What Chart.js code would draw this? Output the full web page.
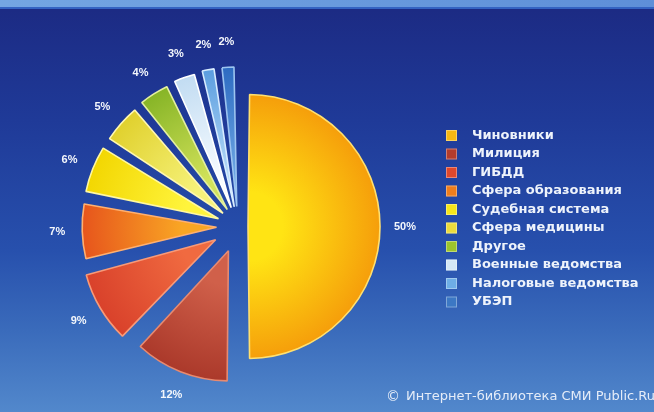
<!DOCTYPE html>
<html lang="ru">
<head>
<meta charset="utf-8">
<script src="https://cdn.jsdelivr.net/npm/chart.js@4.4.0/dist/chart.umd.min.js"></script>
<style>
  html, body { margin: 0; padding: 0; }
  body {
    width: 654px; height: 412px; overflow: hidden; position: relative;
    background: linear-gradient(180deg, #1c2b84 10px, #1f3a98 120px, #2750ad 250px, #3a6bbb 330px, #5288cc 412px);
  }
  #polosa {
    position: absolute; left: 0; top: 0; width: 654px; height: 7px;
    background: linear-gradient(90deg, #74a6e2, #5e8fd8);
    border-bottom: 2px solid #3463c2;
  }
  #istochnik {
    position: absolute; left: 386px; top: 388px; white-space: nowrap;
    color: #e4ecf8; font: 13px "DejaVu Sans", sans-serif;
  }
  #istochnik b { font-weight: normal; font-size: 14px; margin-right: 6px; vertical-align: -1px; }
  canvas { position: absolute; left: 0; top: 0; }
</style>
</head>
<body>
<div id="polosa"></div>
<canvas id="canvas" width="654" height="412"></canvas>
<div id="istochnik"><b>©</b>Интернет-библиотека СМИ Public.Ru</div>
<script>
// категории и доли, %
const kategorii = ['Чиновники', 'Милиция', 'ГИБДД', 'Сфера образования', 'Судебная система',
  'Сфера медицины', 'Другое', 'Военные ведомства', 'Налоговые ведомства', 'УБЭП'];
const dolya = [50, 12, 9, 7, 6, 5, 4, 3, 2, 2];

// цвета: центр сектора, край сектора, квадрат легенды, обводка
const cvetVnutri = ['#ffe414', '#d0604a', '#f06a40', '#f9a624', '#fff43c', '#f6f27a', '#d2e25a', '#f6fbff', '#b2d8f6', '#6aa4e2'];
const cvetSnaruzhi = ['#f59a0a', '#a83628', '#d8402a', '#e6521c', '#f2d600', '#e0d02c', '#86b426', '#c2dcf2', '#5c9ee0', '#2e6cc2'];
const cvetLegendy = ['#f6b812', '#b43c2c', '#e0482c', '#f07e1c', '#f6e61a', '#ecdc3c', '#9cc42c', '#d4e8f6', '#6eaee6', '#3c78c4'];
const cvetKraya = ['#ffe070', '#e88a70', '#f89a78', '#ffb070', '#fff8a0', '#fff8b0', '#e4f0a0', '#ffffff', '#d8ecff', '#9cc4f0'];
// вынос секторов (px * 4, как считает Chart.js)
const vynos = [40, 104, 104, 86, 84, 80, 80, 80, 80, 80];

function zalivka(ctx) {
  const i = ctx.dataIndex;
  const area = ctx.chart.chartArea;
  if (!area) return cvetLegendy[i];
  const cx = (area.left + area.right) / 2;
  const cy = (area.top + area.bottom) / 2;
  const g = ctx.chart.ctx.createRadialGradient(cx, cy, 0, cx, cy, 138);
  g.addColorStop(0, cvetVnutri[i]);
  g.addColorStop(0.25, cvetVnutri[i]);
  g.addColorStop(1, cvetSnaruzhi[i]);
  return g;
}

// подписи процентов у секторов
const podpisi = {
  id: 'podpisi',
  afterDatasetsDraw(chart) {
    const c = chart.ctx;
    const meta = chart.getDatasetMeta(0);
    c.save();
    c.font = 'bold 11px "Liberation Sans", Arial, sans-serif';
    c.fillStyle = '#f4f7fc';
    c.textAlign = 'center';
    c.textBaseline = 'middle';
    meta.data.forEach((el, i) => {
      const p = el.getProps(['x', 'y', 'startAngle', 'endAngle', 'outerRadius'], true);
      const t = (el.options.offset || 0) / 4;
      const fix = 1 - Math.sin(Math.min(Math.PI, p.endAngle - p.startAngle));
      const mid = (p.startAngle + p.endAngle) / 2;
      const d = t + p.outerRadius + t * fix + 25;
      c.fillText(dolya[i] + '%', p.x + Math.cos(mid) * d, p.y + Math.sin(mid) * d);
    });
    c.restore();
  }
};

// легенда справа
const legenda = {
  id: 'legenda',
  afterDraw(chart) {
    const c = chart.ctx;
    c.save();
    c.font = 'bold 13px "DejaVu Sans", sans-serif';
    c.textBaseline = 'middle';
    kategorii.forEach((t, i) => {
      const y = 135 + i * 18.5;
      c.fillStyle = cvetLegendy[i];
      c.fillRect(446, y - 5, 11, 11);
      c.strokeStyle = 'rgba(255,255,255,0.35)';
      c.lineWidth = 1;
      c.strokeRect(446.5, y - 4.5, 10, 10);
      c.fillStyle = '#eef3fb';
      c.fillText(t, 472, y + 0.5);
    });
    c.restore();
  }
};

new Chart(document.getElementById('canvas'), {
  type: 'pie',
  data: {
    labels: kategorii,
    datasets: [{
      data: dolya,
      backgroundColor: zalivka,
      borderColor: cvetKraya,
      borderWidth: 1.6,
      offset: vynos,
      hoverOffset: 0
    }]
  },
  options: {
    responsive: false,
    animation: false,
    radius: 122,
    layout: { padding: { left: 0, right: 178, top: 41, bottom: 0 } },
    plugins: {
      legend: { display: false },
      tooltip: { enabled: false }
    }
  },
  plugins: [podpisi, legenda]
});
</script>
</body>
</html>
